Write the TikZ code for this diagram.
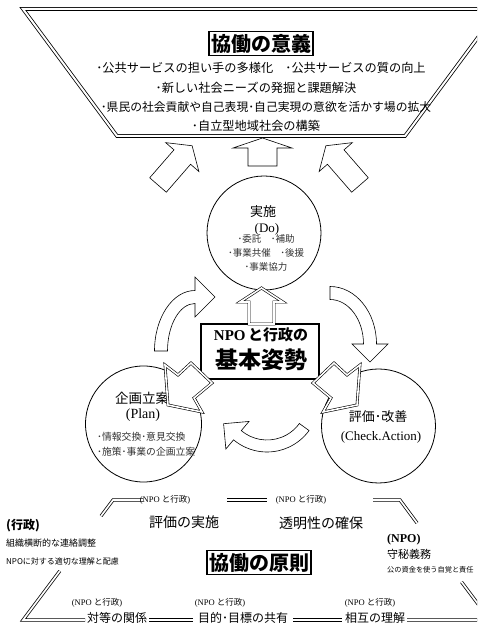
\documentclass[tikz,border=0pt]{standalone}
\usepackage{fontspec}
\setmainfont{Liberation Serif}
\newfontfamily\jp{Noto Sans CJK JP}
\newcommand{\myfs}[1]{\fontsize{#1}{#1}\selectfont}
\tikzset{
  dbl/.style={draw, double, double distance=1.6pt, line width=0.6pt},
  hexline/.style={draw, double, double distance=1.7pt, line width=0.75pt},
  blk/.style={draw, line width=0.6pt, fill=white, line join=miter},
  jt/.style={inner sep=0pt, font=\jp\myfs{#1}},
  jb/.style={inner sep=0pt, font=\jp\bfseries\myfs{#1}},
  rt/.style={inner sep=0pt, font=\rmfamily\myfs{#1}},
  circ/.style={draw, circle, line width=0.8pt, inner sep=0pt, minimum size=#1},
  tbox/.style={draw, line width=1.2pt, inner xsep=2pt, inner ysep=2.5pt, font=\jp\bfseries\myfs{20}, fill=white},
}
\begin{document}
\begin{tikzpicture}[x=1pt,y=1pt]
\clip (0,0) rectangle (477,627);
\fill[white] (0,0) rectangle (477,627);
% ---------- top trapezoid ----------
\draw[dbl, double distance=2pt, line width=0.8pt] (499,618) -- (23,618) -- (117,491) -- (405,491) -- cycle;
\node[tbox] (t1) at (261,583.5) {協働の意義};
\node[jt=12.2] (b1) at (261,559) {･公共サービスの担い手の多様化　･公共サービスの質の向上};
\node[jt=12.2] (b2) at (256,539) {･新しい社会ニーズの発掘と課題解決};
\node[jt=11.8] (b3) at (266,520) {･県民の社会貢献や自己表現･自己実現の意欲を活かす場の拡大};
\node[jt=12.2] (b4) at (256,501) {･自立型地域社会の構築};
% ---------- arrows up to trapezoid ----------
\draw[blk] (262.5,489) -- (292,479) -- (277,479) -- (277,461) -- (248,461) -- (248,479) -- (233,479) -- cycle;
\begin{scope}[shift={(158,442)}, rotate=-41]
\draw[blk] (-11,0) -- (11,0) -- (11,37) -- (22,37) -- (0,52) -- (-22,37) -- (-11,37) -- cycle;
\end{scope}
\begin{scope}[shift={(360,442)}, rotate=41]
\draw[blk] (-11,0) -- (11,0) -- (11,37) -- (22,37) -- (0,52) -- (-22,37) -- (-11,37) -- cycle;
\end{scope}
% ---------- circles ----------
\node[circ=114pt] (do) at (264,394) {};
\node[circ=116pt] (plan) at (143.5,203) {};
\node[circ=114pt] (check) at (378.5,201) {};
\node[jt=13] (do1) at (263,415) {実施};
\node[rt=13] (do2) at (267,398) {(Do)};
\node[jt=9.5, text=black!80] (do3) at (266,388) {･委託　･補助};
\node[jt=9.5, text=black!80] (do4) at (266,374) {･事業共催　･後援};
\node[jt=9.5, text=black!80] (do5) at (266,360) {･事業協力};
\node[jt=13.5] (pl1) at (142,229) {企画立案};
\node[rt=14] (pl2) at (143,212) {(Plan)};
\node[jt=9.8, anchor=west, text=black!80] (pl3) at (97,190) {･情報交換･意見交換};
\node[jt=9.8, anchor=west, text=black!80] (pl4) at (97,175) {･施策･事業の企画立案};
\node[jt=13] (ch1) at (378,210) {評価･改善};
\node[rt=13] (ch2) at (381,190) {(Check.Action)};
% ---------- curved arrows ----------
\draw[blk] (154.5,276) arc[start angle=180, end angle=90, x radius=40.5, y radius=60.5] -- (195,350) -- (215,330) -- (195,310) -- (195,323.5) arc[start angle=90, end angle=180, x radius=27.5, y radius=47.5] -- cycle;
\draw[blk] (330,340.5) arc[start angle=90, end angle=0, x radius=46.5, y radius=57.5] -- (388,283) -- (370,265) -- (352,283) -- (363.5,283) arc[start angle=0, end angle=90, x radius=33.5, y radius=44.5] -- cycle;
\begin{scope}[shift={(267,227)}]
\draw[blk] (-36:52) arc[start angle=-36, end angle=-130, radius=52] -- (-130:64) -- (-43.4,-23.7) -- (-130:28) -- (-130:40) arc[start angle=-130, end angle=-36, radius=40] -- cycle;
\end{scope}
% ---------- central box ----------
\node[draw, line width=1.2pt, minimum width=118pt, minimum height=55pt, fill=white] (base) at (260,275.5) {};
\node[inner sep=0pt] (base1) at (261,292) {{\rmfamily\bfseries\myfs{15}NPO} {\jp\bfseries\myfs{15}と行政の}};
\node[jb=23] (base2) at (261,267) {基本姿勢};
\draw[dbl, fill=white] (261.5,339) -- (283,325) -- (274,325) -- (274,303) -- (249,303) -- (249,325) -- (240,325) -- cycle;
% jagged arrows
\draw[dbl, fill=white] (313,244) -- (334,264) -- (347,252) -- (360,262) -- (357,222) -- (323,215) -- (331,229) -- cycle;
\draw[dbl, fill=white] (212,244) -- (191,264) -- (178,252) -- (165,262) -- (168,222) -- (202,215) -- (194,229) -- cycle;
% ---------- hexagon ----------
\draw[hexline] (143,127) -- (113,127) -- (101,111);
\draw[hexline] (59.75,56) -- (23,7) -- (85,7);
\draw[hexline] (227,127) -- (267,127);
\draw[hexline] (373,127) -- (400,127) -- (417,104);
\draw[hexline] (461.5,45) -- (490,7) -- (407,7);
\draw[hexline] (149,7) -- (193,7);
\draw[hexline] (293,7) -- (342,7);
\node[inner sep=0pt] (l1) at (165,127) {\myfs{8.5}(NPO {\jp と行政})};
\node[inner sep=0pt] (l2) at (301,127) {\myfs{8.5}(NPO {\jp と行政})};
\node[jt=14] (p1) at (184,105) {評価の実施};
\node[jt=14] (p2) at (321,104) {透明性の確保};
\node[jb=12, anchor=west] (g1) at (6,101) {(行政)};
\node[jt=9, anchor=west] (g2) at (6,84) {組織横断的な連絡調整};
\node[jt=8, anchor=west] (g3) at (6,66) {NPOに対する適切な理解と配慮};
\node[inner sep=0pt, anchor=west, font=\rmfamily\bfseries\myfs{12}] (n1) at (387,87) {(NPO)};
\node[jt=11, anchor=west] (n2) at (387,73) {守秘義務};
\node[jt=7.2, anchor=west] (n3) at (387,57) {公の資金を使う自覚と責任};
\node[tbox] (t2) at (259,64.5) {協働の原則};
\node[inner sep=0pt] (l3) at (97,24) {\myfs{8.5}(NPO {\jp と行政})};
\node[inner sep=0pt] (l4) at (220,24) {\myfs{8.5}(NPO {\jp と行政})};
\node[inner sep=0pt] (l5) at (370,24) {\myfs{8.5}(NPO {\jp と行政})};
\node[jt=12] (q1) at (117,9) {対等の関係};
\node[jt=12] (q2) at (243,9) {目的･目標の共有};
\node[jt=12] (q3) at (375,9) {相互の理解};
\end{tikzpicture}
\end{document}
